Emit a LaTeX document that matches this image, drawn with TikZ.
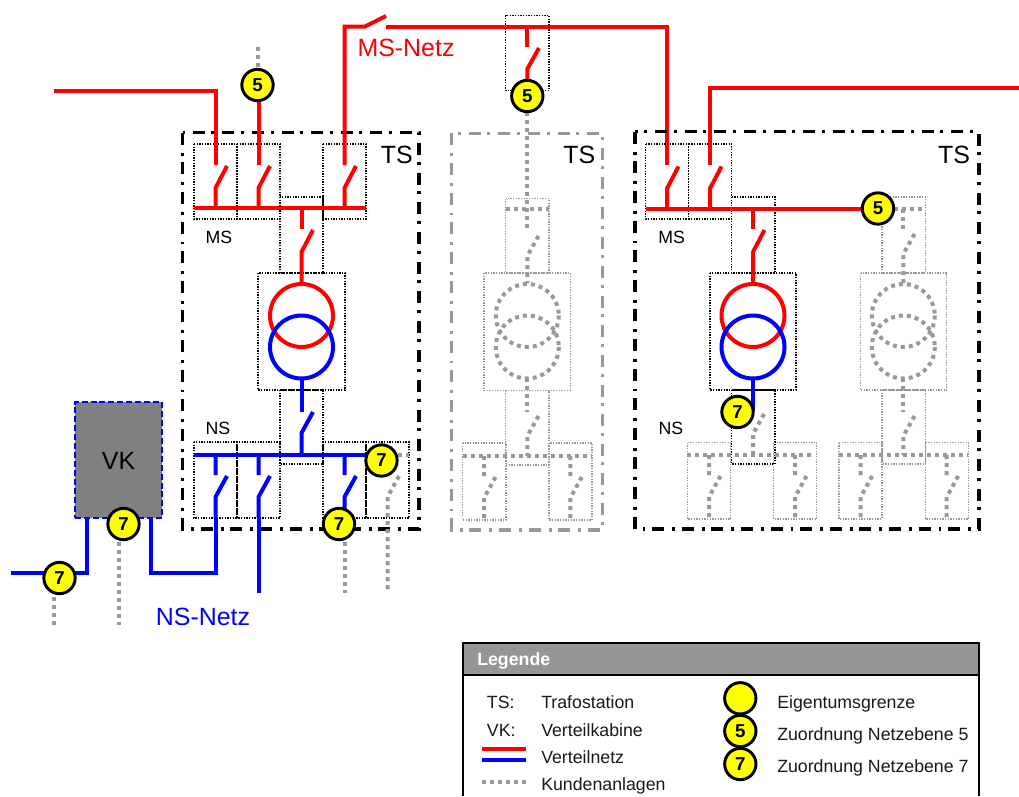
\documentclass[tikz,border=0pt]{standalone}
\usepackage{fontspec}
\setmainfont{Liberation Sans}
\definecolor{kundgrau}{HTML}{999999}
\definecolor{kopfgrau}{HTML}{969696}
\definecolor{vkgrau}{HTML}{808080}
\definecolor{grenzgelb}{RGB}{255,255,0}
\begin{document}
\begin{tikzpicture}[x=0.75pt, y=-0.75pt]
    \tikzset{
        rotnetz/.style={draw=red, line width=3pt},
        blaunetz/.style={draw=blue, line width=3pt},
        kunde/.style={draw=kundgrau, line width=3pt, dash pattern=on 3pt off 3pt},
        feld/.style={draw=black, line width=0.8pt, dash pattern=on 1pt off 1pt},
        feldgrau/.style={draw=kundgrau, line width=0.8pt, dash pattern=on 1pt off 1pt},
        station/.style={draw=black, line width=2.3pt, dash pattern=on 9pt off 6pt on 2.2pt off 5pt},
        stationgrau/.style={station, draw=kundgrau},
        grenze/.style={circle, draw=black, fill=grenzgelb, line width=2.2pt, minimum size=23.5pt, inner sep=0pt, font=\fontsize{14}{14}\selectfont\bfseries},
        grosstext/.style={inner sep=0pt, font=\fontsize{18.7}{20}\selectfont},
        klein/.style={inner sep=0pt, font=\fontsize{13.3}{15}\selectfont},
        legtext/.style={klein, anchor=base west, text=black!90},
        pics/schalteroben/.style={code={\draw[#1] (0,0) -- (0,-20) -- (11.5,-42);}},
        pics/schalterunten/.style={code={\draw[#1] (0,0) -- (0,20) (11.5,21) -- (0,42) -- (0,63);}}
    }
    \useasboundingbox (0,0) rectangle (1019,796);

    \coordinate (fuenfa) at (257.5,85);
    \coordinate (fuenfb) at (527.3,96);
    \coordinate (fuenfc) at (878,208.5);
    \coordinate (siebena) at (59.5,578);
    \coordinate (siebenb) at (123.5,524);
    \coordinate (siebenc) at (339,524);
    \coordinate (siebend) at (381.5,460.5);
    \coordinate (siebene) at (737.5,412);

    % Verteilkabine
    \node [draw=blue, fill=vkgrau, line width=1.5pt, dash pattern=on 4.5pt off 2.2pt, minimum width=65pt, minimum height=87pt, inner sep=0pt] (vk) at (118.5,460) {};
    \node [grosstext] (vktext) at (118.5,461) {VK};

    % TS links
    \draw [station] (182.7,132.7) rectangle (419,529);
    \draw [feld] (194,144) rectangle (237,219);
    \draw [feld] (237,144) rectangle (280,219);
    \draw [feld] (323,144) rectangle (366,219);
    \draw [feld] (280,197) rectangle (323,273);
    \draw [feld] (258,273) rectangle (345,390);
    \draw [feld] (280,390) rectangle (323,464);
    \draw [feld] (194,442) rectangle (237,518);
    \draw [feld] (237,442) rectangle (280,518);
    \draw [feld] (323,442) rectangle (366,518);
    \draw [feld] (366,442) rectangle (409,518);

    \draw [rotnetz] (54,90.5) -- (215.5,90.5) -- (215.5,165);
    \draw [kunde] (258,47) -- (258,68);
    \draw [rotnetz] (258.5,85) -- (258.5,165);
    \draw [rotnetz] (344.5,165) -- (344.5,26.5) -- (365,26.5) -- (386,16);
    \draw [rotnetz] (386,26.5) -- (667,26.5) -- (667,165);
    \draw [rotnetz] (194,208) -- (366,208);
    \pic at (215.5,208) {schalteroben=rotnetz};
    \pic at (258.5,208) {schalteroben=rotnetz};
    \pic at (344.5,208) {schalteroben=rotnetz};
    \draw [rotnetz] (301.5,208) -- (301.5,229);
    \draw [rotnetz] (301.5,283) -- (301.5,252) -- (313,230);
    \draw [rotnetz] (301.5,315.5) circle (31.5);
    \draw [blaunetz] (301.5,347) circle (31.5);
    \draw [blaunetz] (301.5,378) -- (301.5,412);
    \draw [blaunetz] (313,412) -- (301.5,433) -- (301.5,455);
    \draw [blaunetz] (194,455) -- (370,455);
    \pic at (215.5,455) {schalterunten=blaunetz};
    \pic at (258.5,455) {schalterunten=blaunetz};
    \pic at (344.5,455) {schalterunten=blaunetz};
    \draw [blaunetz] (215.5,518) -- (215.5,573) -- (151,573) -- (151,518);
    \draw [blaunetz] (258.5,518) -- (258.5,593);
    \draw [blaunetz] (344.5,518) -- (344.5,530);
    \draw [kunde] (344.5,542) -- (344.5,593);
    \draw [kunde] (390,455) -- (409,455);
    \draw [kunde] (399,476) -- (387.5,497) -- (387.5,593);
    \draw [blaunetz] (86.5,518) -- (86.5,573) -- (11,573);
    \draw [kunde] (54,597) -- (54,625);
    \draw [kunde] (118.5,542) -- (118.5,625);

    % TS Mitte
    \draw [stationgrau] (451.7,133.3) rectangle (602.3,530);
    \draw [feld] (505.7,15.3) rectangle (549,90.7);
    \draw [feldgrau] (505.7,198.7) rectangle (549,273);
    \draw [feldgrau] (484,273) rectangle (570.5,390.5);
    \draw [feldgrau] (505.7,390.5) rectangle (549,465);
    \draw [feldgrau] (462.7,443) rectangle (506,520);
    \draw [feldgrau] (549,443) rectangle (592,520);

    \draw [rotnetz] (527.3,26.5) -- (527.3,47);
    \draw [rotnetz] (539,48) -- (527.3,69) -- (fuenfb);
    \draw [kunde] (fuenfb) -- (527.3,230);
    \draw [kunde] (506,209) -- (549,209);
    \draw [kunde] (538.5,236) -- (527.3,256) -- (527.3,283);
    \draw [kunde] (527.3,315.5) circle (31.5);
    \draw [kunde] (527.3,347) circle (31.5);
    \draw [kunde] (527.3,378) -- (527.3,412);
    \draw [kunde] (538.5,416) -- (527.3,436) -- (527.3,456);
    \draw [kunde] (462.7,456) -- (592,456);
    \pic at (484,456) {schalterunten=kunde};
    \pic at (570.3,456) {schalterunten=kunde};

    % TS rechts
    \draw [station] (635,131.7) rectangle (979,529);
    \draw [feld] (645.7,144) rectangle (688.7,219);
    \draw [feld] (688.7,144) rectangle (731.7,219);
    \draw [feld] (731.7,197) rectangle (775,273);
    \draw [feld] (710,273) rectangle (796,390);
    \draw [feld] (731.7,390) rectangle (775,464);
    \draw [feldgrau] (687.3,442.7) rectangle (730.5,519);
    \draw [feldgrau] (773.5,442.7) rectangle (816.7,519);
    \draw [feldgrau] (882,197) rectangle (925.3,273);
    \draw [feldgrau] (860.7,273) rectangle (946.7,390);
    \draw [feldgrau] (882,390) rectangle (925.3,464);
    \draw [feldgrau] (839,442.7) rectangle (882,519);
    \draw [feldgrau] (925.3,442.7) rectangle (968.5,519);

    \draw [rotnetz] (1019,88) -- (710,88) -- (710,165);
    \draw [rotnetz] (645.7,208.5) -- (fuenfc);
    \pic at (667,208.5) {schalteroben=rotnetz};
    \pic at (710,208.5) {schalteroben=rotnetz};
    \draw [rotnetz] (753,208.5) -- (753,229);
    \draw [rotnetz] (753,283) -- (753,252) -- (764.5,230);
    \draw [rotnetz] (753,315.5) circle (31.5);
    \draw [blaunetz] (753,347) circle (31.5);
    \draw [blaunetz] (753,378) -- (753,411);
    \draw [kunde] (764,414) -- (753,434) -- (753,455);
    \draw [kunde] (687.3,455) -- (812,455);
    \pic at (709,455) {schalterunten=kunde};
    \pic at (795,455) {schalterunten=kunde};

    \draw [kunde] (fuenfc) -- (925,208.5);
    \draw [kunde] (903.3,208.5) -- (903.3,230);
    \draw [kunde] (914.5,234) -- (903.3,254) -- (903.3,283);
    \draw [kunde] (903.3,315.5) circle (31.5);
    \draw [kunde] (903.3,347) circle (31.5);
    \draw [kunde] (903.3,378) -- (903.3,412);
    \draw [kunde] (914.5,416) -- (903.3,436) -- (903.3,455);
    \draw [kunde] (839,455) -- (968,455);
    \pic at (860.7,455) {schalterunten=kunde};
    \pic at (946.7,455) {schalterunten=kunde};

    \node [grenze] (gfuenfa) at (fuenfa) {5};
    \node [grenze] (gfuenfb) at (fuenfb) {5};
    \node [grenze] (gfuenfc) at (fuenfc) {5};
    \node [grenze] (gsiebena) at (siebena) {7};
    \node [grenze] (gsiebenb) at (siebenb) {7};
    \node [grenze] (gsiebenc) at (siebenc) {7};
    \node [grenze] (gsiebend) at (siebend) {7};
    \node [grenze] (gsiebene) at (siebene) {7};

    \node [grosstext] (tsa) at (396.7,155) {TS};
    \node [grosstext] (tsb) at (579.3,155) {TS};
    \node [grosstext] (tsc) at (954,155) {TS};
    \node [klein] (msa) at (219,237) {MS};
    \node [klein] (msb) at (671.7,237) {MS};
    \node [klein] (nsa) at (218,428) {NS};
    \node [klein] (nsb) at (671,428) {NS};
    \node [grosstext, text=red] (msnetz) at (406,47.5) {MS-Netz};
    \node [grosstext, text=blue] (nsnetz) at (203,617) {NS-Netz};

    % Legende
    \draw [fill=kopfgrau, draw=black, line width=1.5pt] (462.5,796) -- (462.5,642.7) -- (978.7,642.7) -- (978.7,796);
    \fill [white] (463.5,674.5) rectangle (977.7,796);
    \draw [black, line width=1.5pt] (462.5,674.5) -- (978.7,674.5);
    \node [klein, anchor=west, text=white, font=\fontsize{13.3}{15}\selectfont\bfseries] (legkopf) at (477,661) {Legende};
    \node [legtext] (legts) at (486.7,708) {TS:};
    \node [legtext] (legvk) at (486.7,736.7) {VK:};
    \node [legtext] (legtsa) at (541,708) {Trafostation};
    \node [legtext] (legvka) at (541,736.7) {Verteilkabine};
    \node [legtext] (legnetz) at (541,763.3) {Verteilnetz};
    \node [legtext] (legkund) at (541,790.7) {Kundenanlagen};
    \draw [rotnetz] (482,749.3) -- (525.7,749.3);
    \draw [blaunetz] (482,760.3) -- (525.7,760.3);
    \draw [kunde] (482,782) -- (525.7,782);
    \node [grenze] (legg) at (740.3,698.3) {};
    \node [grenze] (legf) at (740.3,731) {5};
    \node [grenze] (legs) at (740.3,764) {7};
    \node [legtext] (leggt) at (777,708) {Eigentumsgrenze};
    \node [legtext] (legft) at (777,740.7) {Zuordnung Netzebene 5};
    \node [legtext] (legst) at (777,772.3) {Zuordnung Netzebene 7};
\end{tikzpicture}
\end{document}
